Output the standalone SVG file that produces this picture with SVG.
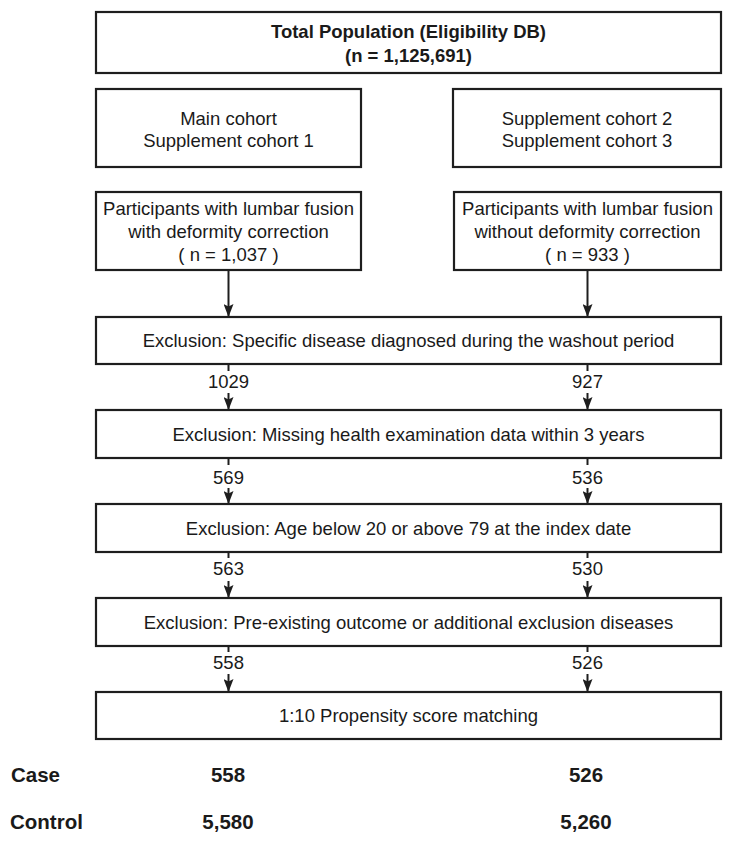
<svg xmlns="http://www.w3.org/2000/svg" width="732" height="842" viewBox="0 0 732 842">
<style>
  .box { fill: #ffffff; stroke: #1e1e1e; stroke-width: 2.2; }
  .t { font-family: "Liberation Sans", Arial, Helvetica, sans-serif; font-size: 18.5px; fill: #1a1a1a; text-anchor: middle; }
  .b { font-weight: bold; }
  .lab { font-family: "Liberation Sans", Arial, Helvetica, sans-serif; font-size: 20.5px; font-weight: bold; fill: #1a1a1a; }
  .c { text-anchor: middle; }
  .ln { stroke: #1e1e1e; stroke-width: 2; fill: none; }
</style>
<defs>
  <marker id="ah" viewBox="0 0 13 10" refX="13" refY="5" markerWidth="13" markerHeight="10" markerUnits="userSpaceOnUse" orient="auto">
    <path d="M0,0 L13,5 L0,10 L2.5,5 z" fill="#1e1e1e"/>
  </marker>
</defs>
<rect width="732" height="842" fill="#ffffff"/>

<g id="total">
  <rect class="box" x="96" y="12" width="625" height="61"/>
  <text class="t b" x="408.5" y="38">Total Population (Eligibility DB)</text>
  <text class="t b" x="408.5" y="61.5">(n = 1,125,691)</text>
</g>

<g id="cohort-left">
  <rect class="box" x="96" y="89" width="265" height="78"/>
  <text class="t" x="228.5" y="125">Main cohort</text>
  <text class="t" x="228.5" y="147">Supplement cohort 1</text>
</g>

<g id="cohort-right">
  <rect class="box" x="453" y="89" width="268" height="78"/>
  <text class="t" x="587" y="125">Supplement cohort 2</text>
  <text class="t" x="587" y="147">Supplement cohort 3</text>
</g>

<g id="participants-left">
  <rect class="box" x="96" y="192" width="265" height="78"/>
  <text class="t" x="228.5" y="215">Participants with lumbar fusion</text>
  <text class="t" x="228.5" y="238">with deformity correction</text>
  <text class="t" x="228.5" y="261">( n = 1,037 )</text>
</g>

<g id="participants-right">
  <rect class="box" x="454" y="192" width="267" height="78"/>
  <text class="t" x="587.5" y="215">Participants with lumbar fusion</text>
  <text class="t" x="587.5" y="238">without deformity correction</text>
  <text class="t" x="587.5" y="261">( n = 933 )</text>
</g>

<g id="exclusion-washout">
  <rect class="box" x="96" y="317" width="625" height="47"/>
  <text class="t" x="408.5" y="347">Exclusion: Specific disease diagnosed during the washout period</text>
</g>

<g id="exclusion-health">
  <rect class="box" x="96" y="410" width="625" height="48"/>
  <text class="t" x="408.5" y="440.5">Exclusion: Missing health examination data within 3 years</text>
</g>

<g id="exclusion-age">
  <rect class="box" x="96" y="504" width="625" height="48"/>
  <text class="t" x="408.5" y="534.5">Exclusion: Age below 20 or above 79 at the index date</text>
</g>

<g id="exclusion-outcome">
  <rect class="box" x="96" y="598" width="625" height="48"/>
  <text class="t" x="408.5" y="628.5">Exclusion: Pre-existing outcome or additional exclusion diseases</text>
</g>

<g id="psm">
  <rect class="box" x="96" y="692" width="625" height="47"/>
  <text class="t" x="408.5" y="722">1:10 Propensity score matching</text>
</g>

<g id="connectors">
  <line class="ln" x1="228.5" y1="270" x2="228.5" y2="317" marker-end="url(#ah)"/>
  <line class="ln" x1="587.5" y1="270" x2="587.5" y2="317" marker-end="url(#ah)"/>

  <line class="ln" x1="228.5" y1="364" x2="228.5" y2="371"/>
  <line class="ln" x1="228.5" y1="393" x2="228.5" y2="410" marker-end="url(#ah)"/>
  <line class="ln" x1="587.5" y1="364" x2="587.5" y2="371"/>
  <line class="ln" x1="587.5" y1="393" x2="587.5" y2="410" marker-end="url(#ah)"/>
  <text class="t" x="228.5" y="387.5">1029</text>
  <text class="t" x="587.5" y="387.5">927</text>

  <line class="ln" x1="228.5" y1="458" x2="228.5" y2="465"/>
  <line class="ln" x1="228.5" y1="488" x2="228.5" y2="504" marker-end="url(#ah)"/>
  <line class="ln" x1="587.5" y1="458" x2="587.5" y2="465"/>
  <line class="ln" x1="587.5" y1="488" x2="587.5" y2="504" marker-end="url(#ah)"/>
  <text class="t" x="228.5" y="483.5">569</text>
  <text class="t" x="587.5" y="483.5">536</text>

  <line class="ln" x1="228.5" y1="552" x2="228.5" y2="558"/>
  <line class="ln" x1="228.5" y1="581" x2="228.5" y2="598" marker-end="url(#ah)"/>
  <line class="ln" x1="587.5" y1="552" x2="587.5" y2="558"/>
  <line class="ln" x1="587.5" y1="581" x2="587.5" y2="598" marker-end="url(#ah)"/>
  <text class="t" x="228.5" y="575">563</text>
  <text class="t" x="587.5" y="575">530</text>

  <line class="ln" x1="228.5" y1="646" x2="228.5" y2="652"/>
  <line class="ln" x1="228.5" y1="674" x2="228.5" y2="692" marker-end="url(#ah)"/>
  <line class="ln" x1="587.5" y1="646" x2="587.5" y2="652"/>
  <line class="ln" x1="587.5" y1="674" x2="587.5" y2="692" marker-end="url(#ah)"/>
  <text class="t" x="228.5" y="668.5">558</text>
  <text class="t" x="587.5" y="668.5">526</text>
</g>

<g id="results">
  <text class="lab" x="11" y="782">Case</text>
  <text class="lab c" x="228" y="782">558</text>
  <text class="lab c" x="586" y="782">526</text>
  <text class="lab" x="10" y="829">Control</text>
  <text class="lab c" x="228" y="829">5,580</text>
  <text class="lab c" x="586" y="829">5,260</text>
</g>
</svg>
